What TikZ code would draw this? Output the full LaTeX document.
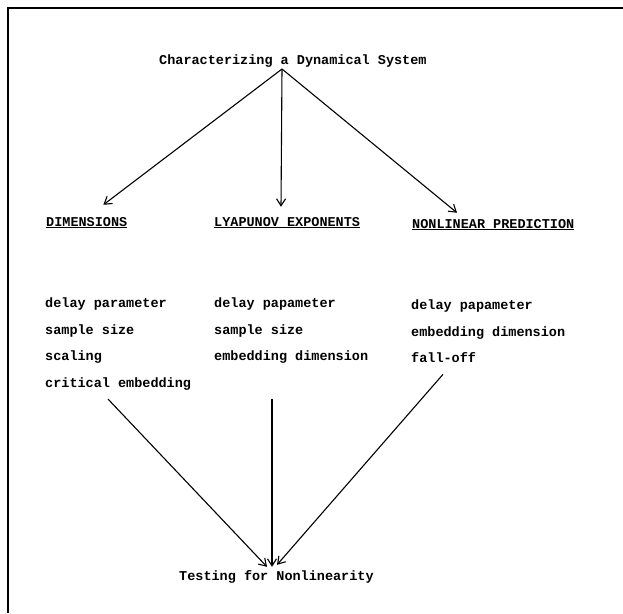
\documentclass[tikz,border=0pt]{standalone}
\usepackage{fontspec}
\setmonofont{Liberation Mono}
\usetikzlibrary{arrows.meta,calc}
\begin{document}
\begin{tikzpicture}[x=1pt,y=-1pt,
  txt/.style={inner sep=0pt,anchor=base west,font=\ttfamily\bfseries\fontsize{13.5}{16}\selectfont},
  conn/.style={line width=1.1pt,-{Straight Barb[length=7pt,width=9pt,line width=1.1pt]}},
  plain/.style={line width=1.1pt}]
\useasboundingbox (0,0) rectangle (623,613);
\draw[line width=1.5pt] (8,613) -- (8,8) -- (623,8);
% title
\node[txt] (title) at (159,64) {Characterizing a Dynamical System};
\coordinate (hub) at (282,69);
% headers
\node[txt] (dim) at (46,226) {\underline{DIMENSIONS}};
\node[txt] (lya) at (214,226) {\underline{LYAPUNOV EXPONENTS}};
\node[txt] (nlp) at (412,228) {\underline{NONLINEAR PREDICTION}};
\draw[conn] (hub) -- ($(dim.north east)+(-24,-12)$);
\draw[conn] (hub) -- ($(lya.north west)+(67,-10)$);
\draw[conn] (hub) -- ($(nlp.north west)+(45,-6)$);
% left column
\node[txt] (d1) at (45,307) {delay parameter};
\node[txt] (d2) at (45,334) {sample size};
\node[txt] (d3) at (45,360) {scaling};
\node[txt] (d4) at (45,387) {critical embedding};
% middle column
\node[txt] (l1) at (214,307) {delay papameter};
\node[txt] (l2) at (214,334) {sample size};
\node[txt] (l3) at (214,360) {embedding dimension};
% right column
\node[txt] (n1) at (411,309) {delay papameter};
\node[txt] (n2) at (411,336) {embedding dimension};
\node[txt] (n3) at (411,362) {fall-off};
% bottom
\node[txt] (test) at (179,580) {Testing for Nonlinearity};
\coordinate (s1) at ($(d4.south west)+(63,9)$);
\coordinate (s2) at ($(l3.south west)+(58,36)$);
\coordinate (s3) at ($(n3.south west)+(32,12)$);
\draw[conn] (s1) -- ($(test.north west)+(88,-3)$);
\draw[conn] (s2) -- ($(test.north west)+(93,-3)$);
\draw[conn] (s3) -- ($(test.north west)+(98,-5)$);
\end{tikzpicture}
\end{document}
